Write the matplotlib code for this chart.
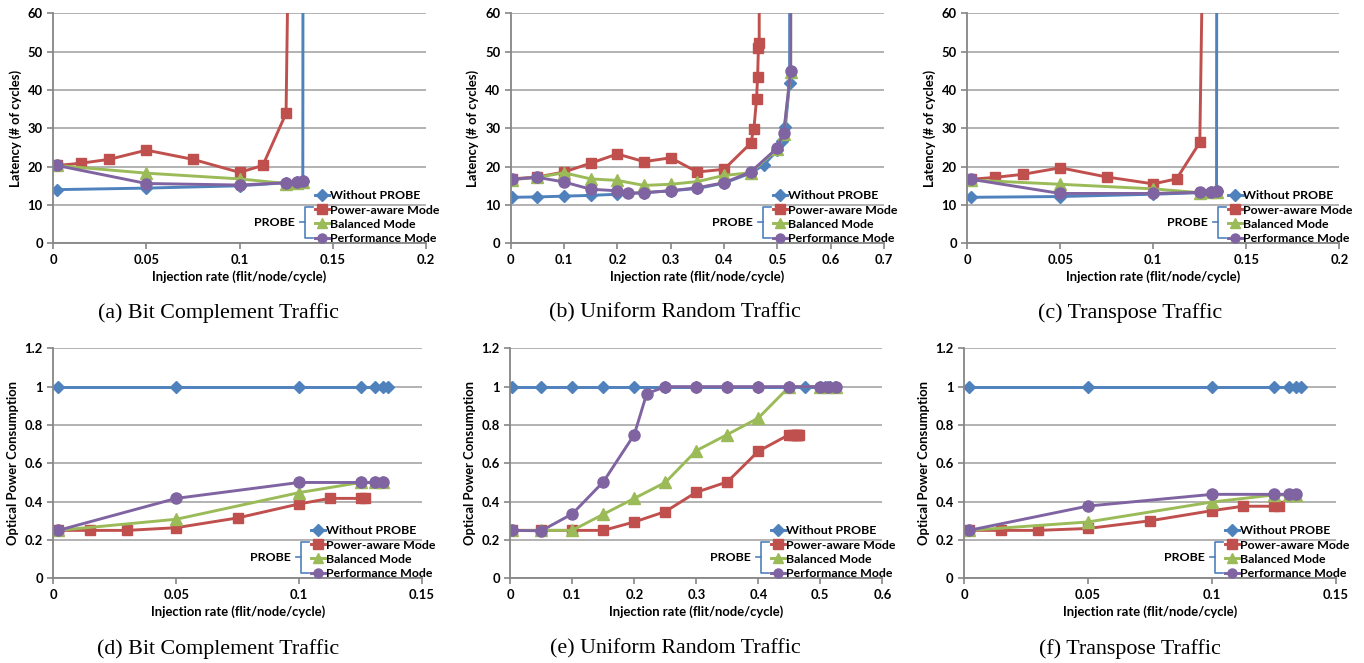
import matplotlib
matplotlib.use('Agg')
import matplotlib.pyplot as plt
from matplotlib.ticker import FuncFormatter, MultipleLocator
from matplotlib.lines import Line2D

plt.rcParams['font.family'] = ['Lato', 'DejaVu Sans']

# ---------------- data ----------------
labels = ['Without PROBE', 'Power-aware Mode', 'Balanced Mode', 'Performance Mode']
captions = ['(a) Bit Complement Traffic', '(b) Uniform Random Traffic', '(c) Transpose Traffic',
            '(d) Bit Complement Traffic', '(e) Uniform Random Traffic', '(f) Transpose Traffic']

# (a) Bit complement - latency
a_x_without = [0.002, 0.05, 0.1, 0.125, 0.131, 0.134, 0.1348]
a_y_without = [14.0, 14.4, 15.0, 15.8, 16.0, 16.2, 500]
a_x_power = [0.002, 0.015, 0.03, 0.05, 0.075, 0.1, 0.1125, 0.125, 0.1258]
a_y_power = [20.3, 20.9, 21.9, 24.3, 21.9, 18.5, 20.3, 33.9, 62]
a_x_balanced = [0.002, 0.05, 0.1, 0.125, 0.131, 0.134]
a_y_balanced = [20.3, 18.3, 16.8, 15.6, 15.8, 16.0]
a_x_perf = [0.002, 0.05, 0.1, 0.125, 0.131, 0.134]
a_y_perf = [20.3, 15.6, 15.2, 15.8, 16.0, 16.3]

# (b) Uniform random - latency
b_x_without = [0.002, 0.05, 0.1, 0.15, 0.2, 0.25, 0.3, 0.35, 0.4, 0.45, 0.475, 0.5, 0.508, 0.515, 0.523, 0.525]
b_y_without = [12.0, 12.1, 12.3, 12.5, 12.8, 13.2, 13.7, 14.3, 15.7, 18.3, 20.5, 24.3, 26.6, 30.4, 41.9, 500]
b_x_power = [0.002, 0.05, 0.1, 0.15, 0.2, 0.25, 0.3, 0.35, 0.4, 0.45, 0.456, 0.461, 0.463, 0.4645, 0.466, 0.4665]
b_y_power = [16.8, 17.3, 18.6, 20.9, 23.3, 21.3, 22.3, 18.6, 19.3, 26.1, 29.8, 37.7, 43.5, 50.9, 52.3, 500]
b_x_balanced = [0.002, 0.05, 0.1, 0.15, 0.2, 0.25, 0.3, 0.35, 0.4, 0.45, 0.5, 0.512, 0.525, 0.527]
b_y_balanced = [16.6, 17.2, 18.4, 16.8, 16.4, 15.1, 15.4, 16.1, 17.7, 18.4, 24.6, 28.5, 44.8, 500]
b_x_perf = [0.002, 0.05, 0.1, 0.15, 0.2, 0.22, 0.25, 0.3, 0.35, 0.4, 0.45, 0.5, 0.512, 0.525, 0.527]
b_y_perf = [16.7, 17.2, 16.0, 14.1, 13.7, 13.1, 13.2, 13.7, 14.5, 15.8, 18.6, 24.9, 28.9, 45.0, 500]

# (c) Transpose - latency
c_x_without = [0.002, 0.05, 0.1, 0.125, 0.131, 0.134, 0.1348]
c_y_without = [12.0, 12.2, 12.8, 13.2, 13.4, 13.6, 500]
c_x_power = [0.002, 0.015, 0.03, 0.05, 0.075, 0.1, 0.1125, 0.125, 0.1262]
c_y_power = [16.7, 17.2, 18.0, 19.7, 17.3, 15.5, 16.8, 26.3, 65]
c_x_balanced = [0.002, 0.05, 0.1, 0.125, 0.131, 0.134]
c_y_balanced = [16.5, 15.4, 14.2, 13.2, 13.3, 13.4]
c_x_perf = [0.002, 0.05, 0.1, 0.125, 0.131, 0.134]
c_y_perf = [16.7, 13.0, 13.0, 13.3, 13.4, 13.6]

# (d) Bit complement - optical power
d_x_without = [0.002, 0.05, 0.1, 0.125, 0.131, 0.134, 0.136]
d_y_without = [1.0, 1.0, 1.0, 1.0, 1.0, 1.0, 1.0]
d_x_power = [0.002, 0.015, 0.03, 0.05, 0.075, 0.1, 0.1125, 0.125, 0.127]
d_y_power = [0.25, 0.25, 0.25, 0.264, 0.315, 0.388, 0.417, 0.417, 0.417]
d_x_balanced = [0.002, 0.05, 0.1, 0.125, 0.131, 0.134]
d_y_balanced = [0.25, 0.308, 0.447, 0.5, 0.5, 0.5]
d_x_perf = [0.002, 0.05, 0.1, 0.125, 0.131, 0.134]
d_y_perf = [0.25, 0.417, 0.5, 0.5, 0.5, 0.5]

# (e) Uniform random - optical power
e_x_without = [0.002, 0.05, 0.1, 0.15, 0.2, 0.25, 0.3, 0.35, 0.4, 0.45, 0.475, 0.5, 0.508, 0.515, 0.523]
e_y_without = [1.0, 1.0, 1.0, 1.0, 1.0, 1.0, 1.0, 1.0, 1.0, 1.0, 1.0, 1.0, 1.0, 1.0, 1.0]
e_x_power = [0.002, 0.05, 0.1, 0.15, 0.2, 0.25, 0.3, 0.35, 0.4, 0.45, 0.456, 0.461, 0.463, 0.4645, 0.466]
e_y_power = [0.25, 0.25, 0.25, 0.25, 0.294, 0.348, 0.449, 0.503, 0.663, 0.75, 0.75, 0.75, 0.75, 0.75, 0.75]
e_x_balanced = [0.002, 0.05, 0.1, 0.15, 0.2, 0.25, 0.3, 0.35, 0.4, 0.45, 0.5, 0.512, 0.525]
e_y_balanced = [0.25, 0.25, 0.25, 0.334, 0.417, 0.5, 0.666, 0.75, 0.836, 1.0, 1.0, 1.0, 1.0]
e_x_perf = [0.002, 0.05, 0.1, 0.15, 0.2, 0.22, 0.25, 0.3, 0.35, 0.4, 0.45, 0.5, 0.512, 0.525]
e_y_perf = [0.25, 0.248, 0.336, 0.503, 0.75, 0.963, 1.0, 1.0, 1.0, 1.0, 1.0, 1.0, 1.0, 1.0]

# (f) Transpose - optical power
f_x_without = [0.002, 0.05, 0.1, 0.125, 0.131, 0.134, 0.136]
f_y_without = [1.0, 1.0, 1.0, 1.0, 1.0, 1.0, 1.0]
f_x_power = [0.002, 0.015, 0.03, 0.05, 0.075, 0.1, 0.1125, 0.125, 0.127]
f_y_power = [0.25, 0.25, 0.25, 0.26, 0.30, 0.353, 0.376, 0.376, 0.376]
f_x_balanced = [0.002, 0.05, 0.1, 0.125, 0.131, 0.134]
f_y_balanced = [0.25, 0.294, 0.398, 0.435, 0.435, 0.435]
f_x_perf = [0.002, 0.05, 0.1, 0.125, 0.131, 0.134]
f_y_perf = [0.25, 0.377, 0.438, 0.438, 0.438, 0.438]

# ---------------- styling ----------------
colors = ['#4F81BD', '#C0504D', '#9BBB59', '#8064A2']
markers = ['D', 's', '^', 'o']
msizes = [6.0, 7.5, 8.0, 8.0]
GRID = '#a6a6a6'
AXC = '#868686'
FS = 9.4

W, H = 1364, 663
fig = plt.figure(figsize=(W / 100, H / 100), dpi=100)

# axes boxes in pixels: (left, top, right, bottom)
boxes = [(53.3, 13.3, 425.7, 243.3), (510.7, 13.3, 884.0, 243.3), (967.3, 13.3, 1339.3, 243.3),
         (53.3, 348.3, 422.0, 578.3), (510.3, 348.3, 882.3, 578.3), (964.0, 348.3, 1336.0, 578.3)]
xmaxs = [0.2, 0.7, 0.2, 0.15, 0.6, 0.15]
xsteps = [0.05, 0.1, 0.05, 0.05, 0.1, 0.05]
caption_x = [218, 675, 1130, 218, 675, 1130]
caption_y = [313, 313, 313, 649, 649, 649]

panels = [
    [(a_x_without, a_y_without), (a_x_power, a_y_power), (a_x_balanced, a_y_balanced), (a_x_perf, a_y_perf)],
    [(b_x_without, b_y_without), (b_x_power, b_y_power), (b_x_balanced, b_y_balanced), (b_x_perf, b_y_perf)],
    [(c_x_without, c_y_without), (c_x_power, c_y_power), (c_x_balanced, c_y_balanced), (c_x_perf, c_y_perf)],
    [(d_x_without, d_y_without), (d_x_power, d_y_power), (d_x_balanced, d_y_balanced), (d_x_perf, d_y_perf)],
    [(e_x_without, e_y_without), (e_x_power, e_y_power), (e_x_balanced, e_y_balanced), (e_x_perf, e_y_perf)],
    [(f_x_without, f_y_without), (f_x_power, f_y_power), (f_x_balanced, f_y_balanced), (f_x_perf, f_y_perf)],
]

fmt = FuncFormatter(lambda v, p: '%g' % round(v, 6))

for k, (box, series) in enumerate(zip(boxes, panels)):
    l, t, r, b = box
    ax = fig.add_axes([l / W, 1 - b / H, (r - l) / W, (b - t) / H])
    top_row = k < 3
    for (xs, ys), c, m, ms, lab in zip(series, colors, markers, msizes, labels):
        ax.plot(xs, ys, color=c, lw=2.1, marker=m, ms=ms, mfc=c, mec=c, label=lab)
    ax.set_xlim(0, xmaxs[k])
    ax.xaxis.set_major_locator(MultipleLocator(xsteps[k]))
    if top_row:
        ax.set_ylim(0, 60)
        ax.yaxis.set_major_locator(MultipleLocator(10))
        ax.set_ylabel('Latency (# of cycles)', fontsize=FS, fontweight='bold', labelpad=4)
    else:
        ax.set_ylim(0, 1.2)
        ax.yaxis.set_major_locator(MultipleLocator(0.2))
        ax.set_ylabel('Optical Power Consumption', fontsize=FS, fontweight='bold', labelpad=4)
    ax.xaxis.set_major_formatter(fmt)
    ax.yaxis.set_major_formatter(fmt)
    ax.set_xlabel('Injection rate (flit/node/cycle)', fontsize=FS, fontweight='bold', labelpad=3)
    ax.grid(axis='y', color=GRID, lw=1.2)
    ax.set_axisbelow(True)
    for s in ['top', 'right']:
        ax.spines[s].set_visible(False)
    for s in ['left', 'bottom']:
        ax.spines[s].set_color(AXC)
        ax.spines[s].set_linewidth(1.3)
    ax.tick_params(axis='both', colors=AXC, labelcolor='black', labelsize=FS, length=4, width=1.2)
    for lbl in ax.get_xticklabels() + ax.get_yticklabels():
        lbl.set_fontweight('bold')

    # legend in lower-right, partly beyond the axes edge
    wpx = r - l
    hpx = b - t
    hx = 1 - 111 / wpx
    leg = ax.legend(loc='upper left', bbox_to_anchor=(hx, 53 / hpx), frameon=False,
                    prop={'weight': 'bold', 'size': 8.9},
                    handlelength=1.15, handletextpad=0.05, borderpad=0, borderaxespad=0,
                    labelspacing=0.26, markerscale=1.0)
    for h in leg.legend_handles:
        h.set_markersize(6.5)
    # PROBE bracket
    bx = 1 - 121 / wpx
    ytop, ybot, ymid = 36 / hpx, 5 / hpx, 21 / hpx
    bkw = dict(transform=ax.transAxes, color='#4F81BD', lw=1.2, clip_on=False)
    ax.add_line(Line2D([bx + 8 / wpx, bx, bx, bx + 8 / wpx], [ytop, ytop, ybot, ybot], **bkw))
    ax.add_line(Line2D([bx - 5 / wpx, bx], [ymid, ymid], **bkw))
    ax.text(1 - 131 / wpx, ymid, 'PROBE', transform=ax.transAxes, ha='right', va='center',
            fontsize=8.9, fontweight='bold')

    fig.text(caption_x[k] / W, 1 - caption_y[k] / H, captions[k], ha='center', va='center',
             fontsize=15.8, family=['Liberation Serif', 'DejaVu Serif'])

fig.savefig('out.png', dpi=100)
